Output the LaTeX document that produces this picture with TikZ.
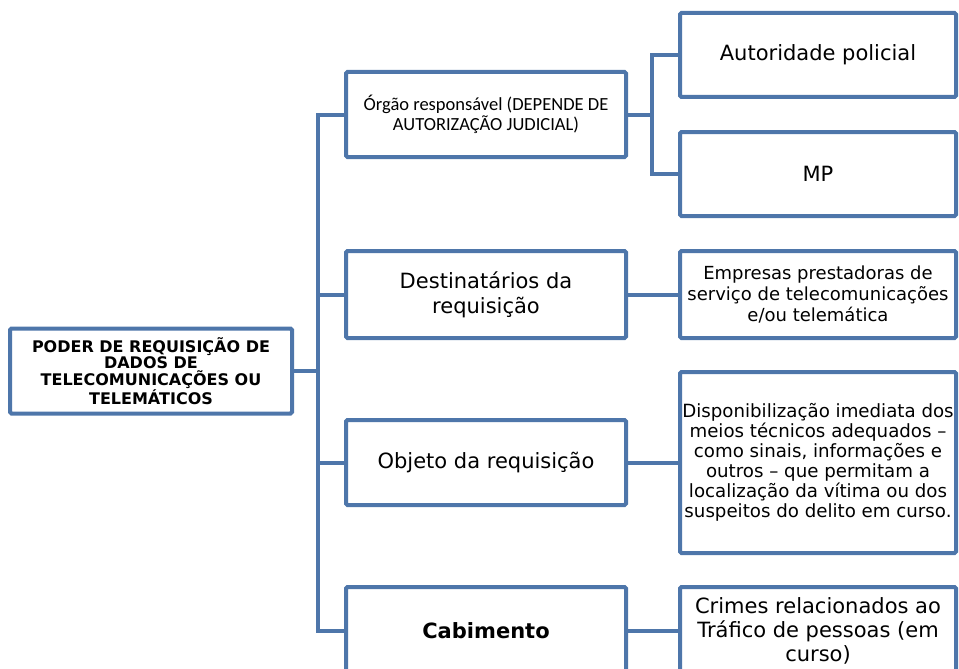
\documentclass[tikz,border=0pt]{standalone}
\usepackage{fontspec}
\setmainfont{DejaVu Sans}
\newfontfamily\carlito{Carlito}
\usetikzlibrary{positioning}
\definecolor{frameblue}{RGB}{78,118,170}
\tikzset{
    box/.style={draw=frameblue, line width=4pt, fill=white, rounded corners=1.5pt,
        align=center, inner sep=1pt, font=\fontsize{21}{25}\selectfont},
    link/.style={draw=frameblue, line width=4pt},
}

\begin{document}
\begin{tikzpicture}[x=1pt,y=-1pt]
    \clip (0,0) rectangle (959,669);

    \node[box, minimum width=282pt, minimum height=85pt,
        font=\bfseries\fontsize{16}{16.7}\selectfont] (root) at (151,371)
        {PODER DE REQUISIÇÃO DE\\DADOS DE\\TELECOMUNICAÇÕES OU\\TELEMÁTICOS};

    % second level
    \node[box, minimum width=280pt, minimum height=85pt,
        font=\carlito\fontsize{18.5}{20}\selectfont] (orgao) at (486,114.5)
        {Órgão responsável (DEPENDE DE\\AUTORIZAÇÃO JUDICIAL)};
    \node[box, minimum width=280pt, minimum height=87pt] (dest) at (486,294.5)
        {Destinatários da\\requisição};
    \node[box, minimum width=280pt, minimum height=85pt] (obj) at (486,462.5)
        {Objeto da requisição};
    \node[box, minimum width=280pt, minimum height=88pt,
        font=\bfseries\fontsize{21}{25}\selectfont] (cab) at (486,631) {Cabimento};

    % third level
    \node[box, minimum width=276pt, minimum height=84pt] (aut) at (818,55)
        {Autoridade policial};
    \node[box, minimum width=276pt, minimum height=84pt] (mp) at (818,174) {MP};
    \node[box, minimum width=276pt, minimum height=87pt,
        font=\fontsize{18}{21}\selectfont] (emp) at (818,294.5)
        {Empresas prestadoras de\\serviço de telecomunicações\\e/ou telemática};
    \node[box, minimum width=276pt, minimum height=181pt,
        font=\fontsize{18.2}{20}\selectfont] (disp) at (818,462.5)
        {Disponibilização imediata dos\\meios técnicos adequados --\\como sinais, informações e\\outros -- que permitam a\\localização da vítima ou dos\\suspeitos do delito em curso.};
    \node[box, minimum width=276pt, minimum height=88pt,
        font=\fontsize{21}{24}\selectfont] (crim) at (818,631)
        {Crimes relacionados ao\\Tráfico de pessoas (em\\curso)};

    % connectors
    \draw[link] (root.east) -- ++(24,0) coordinate (trunk);
    \foreach \n in {orgao,dest,obj,cab}
        \draw[link] (trunk) |- (\n.west);
    \draw[link] (orgao.east) -- ++(24,0) coordinate (fork);
    \foreach \n in {aut,mp}
        \draw[link] (fork) |- (\n.west);
    \draw[link] (dest.east) -- (emp.west);
    \draw[link] (obj.east) -- (disp.west);
    \draw[link] (cab.east) -- (crim.west);
\end{tikzpicture}
\end{document}
